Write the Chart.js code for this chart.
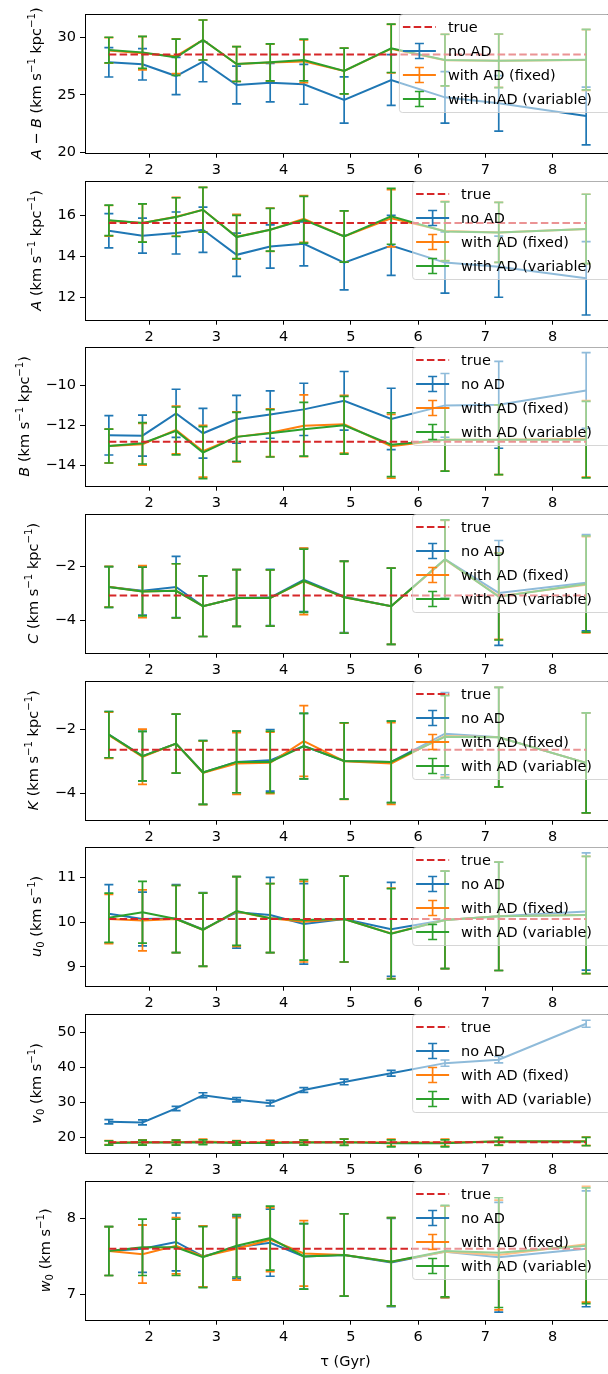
<!DOCTYPE html>
<html lang="en">
<head>
<meta charset="UTF-8">
<title>Rotation curve fit parameters vs. age</title>
<script src="https://cdn.jsdelivr.net/npm/chart.js"></script>
<style>
  html, body { margin: 0; padding: 0; background: #fff; overflow: hidden; }
  #wrap { position: relative; width: 608px; height: 1374px; overflow: hidden; }
  .panel { position: absolute; left: 0; width: 612px; }
</style>
</head>
<body>
<div id="wrap"></div>
<script>
// age bins (Gyr)
const tau = [1.4, 1.9, 2.4, 2.8, 3.3, 3.8, 4.3, 4.9, 5.6, 6.4, 7.2, 8.5];
const xTicks = [2, 3, 4, 5, 6, 7, 8];

// A - B
const abNoAD = [27.82, 27.65, 26.63, 27.87, 25.86, 26.06, 25.92, 24.56, 26.29, 24.79, 24.27, 23.17];
const abNoADErr = [1.27, 1.36, 1.61, 1.73, 1.63, 1.67, 1.73, 2.0, 2.2, 2.23, 2.4, 2.5];
const abFixed = [28.85, 28.6, 28.35, 29.75, 27.67, 27.8, 27.9, 27.07, 29.0, 28.0, 27.95, 28.02];
const abFixedErr = [1.1, 1.44, 1.5, 1.73, 1.5, 1.6, 1.85, 1.98, 2.1, 2.23, 2.3, 2.62];
const abVar = [28.88, 28.68, 28.25, 29.75, 27.67, 27.82, 28.02, 27.07, 29.03, 28.02, 27.95, 28.05];
const abVarErr = [1.11, 1.38, 1.57, 1.73, 1.51, 1.6, 1.8, 1.98, 2.09, 2.23, 2.32, 2.62];
const abTrue = 28.5;
const abTicks = [20, 25, 30];

// A
const aNoAD = [15.26, 15.02, 15.15, 15.31, 14.08, 14.49, 14.62, 13.7, 14.54, 13.7, 13.5, 12.93];
const aNoADErr = [0.84, 0.86, 1.03, 1.11, 1.06, 1.06, 1.08, 1.34, 1.47, 1.5, 1.5, 1.8];
const aFixed = [15.75, 15.64, 15.95, 16.29, 14.97, 15.31, 15.84, 14.98, 15.87, 15.25, 15.18, 15.35];
const aFixedErr = [0.75, 0.94, 0.95, 1.1, 1.1, 1.06, 1.15, 1.26, 1.4, 1.45, 1.47, 1.7];
const aVar = [15.77, 15.64, 15.93, 16.29, 14.95, 15.31, 15.8, 14.98, 15.97, 15.23, 15.18, 15.35];
const aVarErr = [0.75, 0.94, 0.95, 1.1, 1.06, 1.05, 1.15, 1.26, 1.37, 1.45, 1.47, 1.7];
const aTrue = 15.64;
const aTicks = [12, 14, 16];

// B
const bNoAD = [-12.5, -12.52, -11.4, -12.4, -11.7, -11.46, -11.2, -10.77, -11.68, -11.0, -10.97, -10.25];
const bNoADErr = [0.99, 1.03, 1.21, 1.25, 1.2, 1.19, 1.31, 1.47, 1.54, 1.6, 2.18, 1.9];
const bFixed = [-13.04, -12.95, -12.23, -13.3, -12.58, -12.37, -12.02, -11.95, -13.05, -12.72, -12.72, -12.68];
const bFixedErr = [0.85, 1.05, 1.2, 1.3, 1.25, 1.2, 1.55, 1.45, 1.6, 1.58, 1.75, 1.92];
const bVar = [-13.04, -12.9, -12.28, -13.37, -12.58, -12.4, -12.2, -12.0, -12.97, -12.72, -12.72, -12.72];
const bVarErr = [0.85, 1.04, 1.2, 1.3, 1.23, 1.19, 1.35, 1.45, 1.6, 1.58, 1.75, 1.92];
const bTrue = -12.82;
const bTicks = [-14, -12, -10];

// C
const cNoAD = [-2.76, -2.9, -2.76, -3.47, -3.17, -3.15, -2.5, -3.12, -3.47, -1.73, -2.98, -2.6];
const cNoADErr = [0.75, 0.9, 1.13, 1.12, 1.05, 1.04, 1.17, 1.33, 1.41, 1.45, 1.94, 1.78];
const cFixed = [-2.75, -2.93, -2.9, -3.47, -3.17, -3.17, -2.55, -3.14, -3.47, -1.75, -3.1, -2.68];
const cFixedErr = [0.75, 0.96, 1.0, 1.12, 1.05, 1.04, 1.23, 1.33, 1.41, 1.45, 1.6, 1.78];
const cVar = [-2.76, -2.93, -2.9, -3.47, -3.17, -3.17, -2.53, -3.14, -3.47, -1.73, -3.12, -2.65];
const cVarErr = [0.75, 0.9, 1.0, 1.12, 1.05, 1.04, 1.17, 1.33, 1.41, 1.45, 1.6, 1.78];
const cTrue = -3.07;
const cTicks = [-4, -2];

// K
const kNoAD = [-2.16, -2.83, -2.44, -3.34, -3.01, -2.96, -2.52, -2.98, -3.01, -2.13, -2.24, -3.04];
const kNoADErr = [0.72, 0.77, 0.92, 0.99, 0.96, 0.96, 1.02, 1.19, 1.27, 1.28, 1.55, 1.56];
const kFixed = [-2.18, -2.85, -2.44, -3.35, -3.06, -3.04, -2.36, -2.99, -3.06, -2.2, -2.24, -3.04];
const kFixedErr = [0.72, 0.86, 0.92, 0.99, 0.96, 0.96, 1.1, 1.19, 1.27, 1.28, 1.55, 1.56];
const kVar = [-2.16, -2.83, -2.44, -3.34, -3.01, -3.01, -2.52, -2.98, -3.01, -2.23, -2.24, -3.04];
const kVarErr = [0.72, 0.77, 0.92, 0.99, 0.96, 0.96, 1.02, 1.19, 1.27, 1.28, 1.55, 1.56];
const kTrue = -2.63;
const kTicks = [-4, -2];

// u0
const uNoAD = [10.19, 10.07, 10.08, 9.84, 10.22, 10.16, 9.96, 10.07, 9.84, 10.05, 10.13, 10.24];
const uNoADErr = [0.65, 0.6, 0.76, 0.82, 0.8, 0.84, 0.9, 0.96, 1.05, 1.09, 1.21, 1.31];
const uFixed = [10.07, 10.04, 10.07, 9.83, 10.24, 10.09, 10.01, 10.07, 9.75, 10.05, 10.13, 10.16];
const uFixedErr = [0.55, 0.68, 0.75, 0.82, 0.78, 0.77, 0.9, 0.96, 1.01, 1.09, 1.21, 1.31];
const uVar = [10.1, 10.22, 10.07, 9.83, 10.25, 10.09, 10.05, 10.07, 9.74, 10.05, 10.13, 10.16];
const uVarErr = [0.55, 0.69, 0.75, 0.82, 0.77, 0.77, 0.9, 0.96, 1.01, 1.09, 1.21, 1.31];
const uTrue = 10.07;
const uTicks = [9, 10, 11];

// v0
const vNoAD = [24.4, 24.2, 28.2, 32.0, 30.7, 29.7, 33.5, 35.8, 38.3, 41.2, 42.2, 52.5];
const vNoADErr = [0.6, 0.7, 0.6, 0.7, 0.6, 0.8, 0.7, 0.8, 0.8, 0.9, 0.9, 1.0];
const vFixed = [18.4, 18.5, 18.5, 18.7, 18.4, 18.5, 18.5, 18.6, 18.4, 18.4, 18.7, 18.8];
const vFixedErr = [0.6, 0.7, 0.7, 0.7, 0.6, 0.6, 0.7, 0.9, 1.0, 1.0, 1.1, 1.2];
const vVar = [18.3, 18.4, 18.4, 18.5, 18.3, 18.3, 18.4, 18.5, 18.2, 18.2, 18.8, 18.7];
const vVarErr = [0.6, 0.7, 0.7, 0.7, 0.6, 0.6, 0.7, 0.9, 1.0, 1.0, 1.1, 1.2];
const vTrue = 18.5;
const vTicks = [20, 30, 40, 50];

// w0
const wNoAD = [7.57, 7.6, 7.69, 7.5, 7.62, 7.68, 7.5, 7.52, 7.42, 7.56, 7.49, 7.6];
const wNoADErr = [0.32, 0.31, 0.38, 0.4, 0.41, 0.44, 0.43, 0.54, 0.58, 0.6, 0.72, 0.76];
const wFixed = [7.57, 7.53, 7.64, 7.5, 7.6, 7.72, 7.54, 7.52, 7.43, 7.56, 7.52, 7.66];
const wFixedErr = [0.32, 0.38, 0.37, 0.4, 0.41, 0.42, 0.43, 0.54, 0.58, 0.6, 0.72, 0.76];
const wVar = [7.57, 7.62, 7.62, 7.49, 7.64, 7.74, 7.5, 7.52, 7.43, 7.57, 7.55, 7.64];
const wVarErr = [0.32, 0.37, 0.37, 0.4, 0.41, 0.42, 0.43, 0.54, 0.58, 0.6, 0.72, 0.76];
const wTrue = 7.6;
const wTicks = [7, 8];

const BLUE = '#1f77b4', ORANGE = '#ff7f0e', GREEN = '#2ca02c', RED = '#d62728';
const FAMILY = '"DejaVu Sans", sans-serif';
const FS = 14.5;

// units as rich text segments: n = normal, i = italic, sup/sub = scripts
const perKpc = [['n', ' (km s'], ['sup', '−1'], ['n', ' kpc'], ['sup', '−1'], ['n', ')']];
const perS = [['n', ' (km s'], ['sup', '−1'], ['n', ')']];

const panels = [
  { s: [abNoAD, abNoADErr, abFixed, abFixedErr, abVar, abVarErr], t: abTrue, ticks: abTicks, min: 20, max: 32,
    ylab: [['i', 'A'], ['n', ' − '], ['i', 'B']].concat(perKpc), varName: 'with inAD (variable)' },
  { s: [aNoAD, aNoADErr, aFixed, aFixedErr, aVar, aVarErr], t: aTrue, ticks: aTicks, min: 10.9, max: 17.7,
    ylab: [['i', 'A']].concat(perKpc), varName: 'with AD (variable)' },
  { s: [bNoAD, bNoADErr, bFixed, bFixedErr, bVar, bVarErr], t: bTrue, ticks: bTicks, min: -15.03, max: -8.07,
    ylab: [['i', 'B']].concat(perKpc), varName: 'with AD (variable)' },
  { s: [cNoAD, cNoADErr, cFixed, cFixedErr, cVar, cVarErr], t: cTrue, ticks: cTicks, min: -5.19, max: -0.06,
    ylab: [['i', 'C']].concat(perKpc), varName: 'with AD (variable)' },
  { s: [kNoAD, kNoADErr, kFixed, kFixedErr, kVar, kVarErr], t: kTrue, ticks: kTicks, min: -4.81, max: -0.49,
    ylab: [['i', 'K']].concat(perKpc), varName: 'with AD (variable)' },
  { s: [uNoAD, uNoADErr, uFixed, uFixedErr, uVar, uVarErr], t: uTrue, ticks: uTicks, min: 8.58, max: 11.68,
    ylab: [['i', 'u'], ['sub', '0']].concat(perS), varName: 'with AD (variable)' },
  { s: [vNoAD, vNoADErr, vFixed, vFixedErr, vVar, vVarErr], t: vTrue, ticks: vTicks, min: 15.5, max: 55.3,
    ylab: [['i', 'v'], ['sub', '0']].concat(perS), varName: 'with AD (variable)' },
  { s: [wNoAD, wNoADErr, wFixed, wFixedErr, wVar, wVarErr], t: wTrue, ticks: wTicks, min: 6.67, max: 8.49,
    ylab: [['i', 'w'], ['sub', '0']].concat(perS), varName: 'with AD (variable)' }
];

const PLOT_TOP0 = 14, PLOT_STEP = 166.67, PLOT_H = 138.7, PAD_TOP = 14;

function fmt(v) { return v < 0 ? '−' + Math.abs(v) : String(v); }

function segFont(kind) {
  const small = kind === 'sup' || kind === 'sub';
  return (kind === 'i' ? 'italic ' : '') + (small ? FS * 0.7 : FS) + 'px ' + FAMILY;
}

function drawRich(ctx, segs, cx, cy) {
  let total = 0;
  segs.forEach(([k, t]) => { ctx.font = segFont(k); total += ctx.measureText(t).width; });
  let x = cx - total / 2;
  const base = cy + FS * 0.36;
  segs.forEach(([k, t]) => {
    ctx.font = segFont(k);
    let y = base;
    if (k === 'sup') y = base - FS * 0.42;
    if (k === 'sub') y = base + FS * 0.22;
    ctx.fillText(t, x, y);
    x += ctx.measureText(t).width;
  });
}

// error bars drawn right after each series' line
const errorBars = {
  id: 'errorBars',
  afterDatasetDraw(chart, args) {
    const ds = chart.data.datasets[args.index];
    if (!ds.errors) return;
    const xs = chart.scales.x, ys = chart.scales.y, a = chart.chartArea, ctx = chart.ctx;
    ctx.save();
    ctx.beginPath();
    ctx.rect(a.left, a.top, a.right - a.left, a.bottom - a.top);
    ctx.clip();
    ctx.strokeStyle = ds.borderColor;
    ctx.lineWidth = 1.7;
    ds.data.forEach((p, i) => {
      const px = xs.getPixelForValue(p.x);
      const y1 = ys.getPixelForValue(p.y - ds.errors[i]);
      const y2 = ys.getPixelForValue(p.y + ds.errors[i]);
      ctx.beginPath();
      ctx.moveTo(px, y1); ctx.lineTo(px, y2);
      ctx.moveTo(px - 4.5, y1); ctx.lineTo(px + 4.5, y1);
      ctx.moveTo(px - 4.5, y2); ctx.lineTo(px + 4.5, y2);
      ctx.stroke();
    });
    ctx.restore();
  }
};

// axes frame + matplotlib-like legend box in the upper right
const frameAndLegend = {
  id: 'frameAndLegend',
  afterDatasetsDraw(chart, args, opts) {
    const ctx = chart.ctx, a = chart.chartArea;
    ctx.save();
    ctx.strokeStyle = '#000';
    ctx.lineWidth = 1;
    ctx.strokeRect(Math.round(a.left) + 0.5, Math.round(a.top) + 0.5,
      Math.round(a.right - a.left), Math.round(a.bottom - a.top));

    ctx.font = FS + 'px ' + FAMILY;
    const labels = opts.labels;
    const tw = Math.max(...labels.map(l => ctx.measureText(l.text).width));
    const w = 49 + tw + 18, h = 98;
    const left = a.right - w, top = a.top + 0.5;
    ctx.beginPath();
    ctx.roundRect(left + 0.5, top, w, h, 3);
    ctx.fillStyle = 'rgba(255,255,255,0.5)';
    ctx.fill();
    ctx.strokeStyle = 'rgba(204,204,204,0.8)';
    ctx.stroke();

    labels.forEach((l, i) => {
      const cy = top + 12.5 + 24 * i;
      const x0 = left + 4, x1 = left + 37, xm = (x0 + x1) / 2;
      ctx.strokeStyle = l.color;
      ctx.lineWidth = 2;
      ctx.beginPath();
      if (l.dashed) ctx.setLineDash([7.5, 3.3]);
      ctx.moveTo(x0, cy); ctx.lineTo(x1, cy);
      ctx.stroke();
      ctx.setLineDash([]);
      if (!l.dashed) {
        ctx.lineWidth = 1.7;
        ctx.beginPath();
        ctx.moveTo(xm, cy - 7.5); ctx.lineTo(xm, cy + 7.5);
        ctx.moveTo(xm - 4.5, cy - 7.5); ctx.lineTo(xm + 4.5, cy - 7.5);
        ctx.moveTo(xm - 4.5, cy + 7.5); ctx.lineTo(xm + 4.5, cy + 7.5);
        ctx.stroke();
      }
      ctx.fillStyle = '#000';
      ctx.textBaseline = 'middle';
      ctx.fillText(l.text, left + 49, cy + 1);
    });
    ctx.restore();
  },
  afterDraw(chart, args, opts) {
    const ctx = chart.ctx, a = chart.chartArea;
    ctx.save();
    ctx.font = FS + 'px ' + FAMILY;
    const tickW = Math.max(...opts.ticks.map(v => ctx.measureText(fmt(v)).width));
    const lx = a.left - 9 - tickW - 22;
    ctx.translate(lx, (a.top + a.bottom) / 2);
    ctx.rotate(-Math.PI / 2);
    ctx.fillStyle = '#000';
    ctx.textBaseline = 'alphabetic';
    drawRich(ctx, opts.ylab, 0, 0);
    ctx.restore();
    if (opts.xTitle) {
      ctx.save();
      ctx.font = FS + 'px ' + FAMILY;
      ctx.fillStyle = '#000';
      ctx.textAlign = 'center';
      ctx.textBaseline = 'middle';
      ctx.fillText('τ (Gyr)', (a.left + a.right) / 2 - 2, a.bottom + 43);
      ctx.restore();
    }
  }
};

const wrap = document.getElementById('wrap');

panels.forEach((p, idx) => {
  const last = idx === panels.length - 1;
  const plotTop = PLOT_TOP0 + PLOT_STEP * idx;
  const divTop = plotTop - PAD_TOP;
  const height = last ? 1374 - divTop : 186;
  const xAxisH = height - PAD_TOP - PLOT_H;

  const div = document.createElement('div');
  div.className = 'panel';
  div.style.top = divTop + 'px';
  div.style.height = height + 'px';
  const canvas = document.createElement('canvas');
  div.appendChild(canvas);
  wrap.appendChild(div);

  const pts = arr => tau.map((x, i) => ({ x: x, y: arr[i] }));
  const series = (label, vals, errs, color, order) => ({
    label: label, data: pts(vals), errors: errs, borderColor: color, backgroundColor: color,
    borderWidth: 2, pointRadius: 0, tension: 0, order: order
  });

  new Chart(canvas, {
    type: 'line',
    data: {
      datasets: [
        { label: 'true', data: [{ x: tau[0], y: p.t }, { x: tau[tau.length - 1], y: p.t }],
          borderColor: RED, borderWidth: 2, borderDash: [7.5, 3.3], pointRadius: 0, order: 0 },
        series('no AD', p.s[0], p.s[1], BLUE, 3),
        series('with AD (fixed)', p.s[2], p.s[3], ORANGE, 2),
        series(p.varName, p.s[4], p.s[5], GREEN, 1)
      ]
    },
    options: {
      responsive: true,
      maintainAspectRatio: false,
      animation: false,
      events: [],
      layout: { padding: { top: PAD_TOP, left: 0, right: 2, bottom: 0 } },
      scales: {
        x: {
          type: 'linear', min: 1.045, max: 8.855,
          afterBuildTicks: s => { s.ticks = xTicks.map(v => ({ value: v })); },
          afterFit: s => { s.height = xAxisH; },
          ticks: { font: { family: FAMILY, size: FS }, color: '#000', padding: 4, maxRotation: 0, autoSkip: false,
                   callback: v => fmt(v) },
          grid: { drawOnChartArea: false, drawTicks: true, tickLength: 5, color: '#000', lineWidth: 1 },
          border: { display: false }
        },
        y: {
          type: 'linear', min: p.min, max: p.max,
          afterBuildTicks: s => { s.ticks = p.ticks.map(v => ({ value: v })); },
          afterFit: s => { s.width = 85; },
          ticks: { font: { family: FAMILY, size: FS }, color: '#000', padding: 4, autoSkip: false,
                   callback: v => fmt(v) },
          grid: { drawOnChartArea: false, drawTicks: true, tickLength: 5, color: '#000', lineWidth: 1 },
          border: { display: false }
        }
      },
      plugins: {
        legend: { display: false },
        tooltip: { enabled: false },
        frameAndLegend: {
          ticks: p.ticks,
          ylab: p.ylab,
          xTitle: last,
          labels: [
            { text: 'true', color: RED, dashed: true },
            { text: 'no AD', color: BLUE },
            { text: 'with AD (fixed)', color: ORANGE },
            { text: p.varName, color: GREEN }
          ]
        }
      }
    },
    plugins: [errorBars, frameAndLegend]
  });
});
</script>
</body>
</html>
